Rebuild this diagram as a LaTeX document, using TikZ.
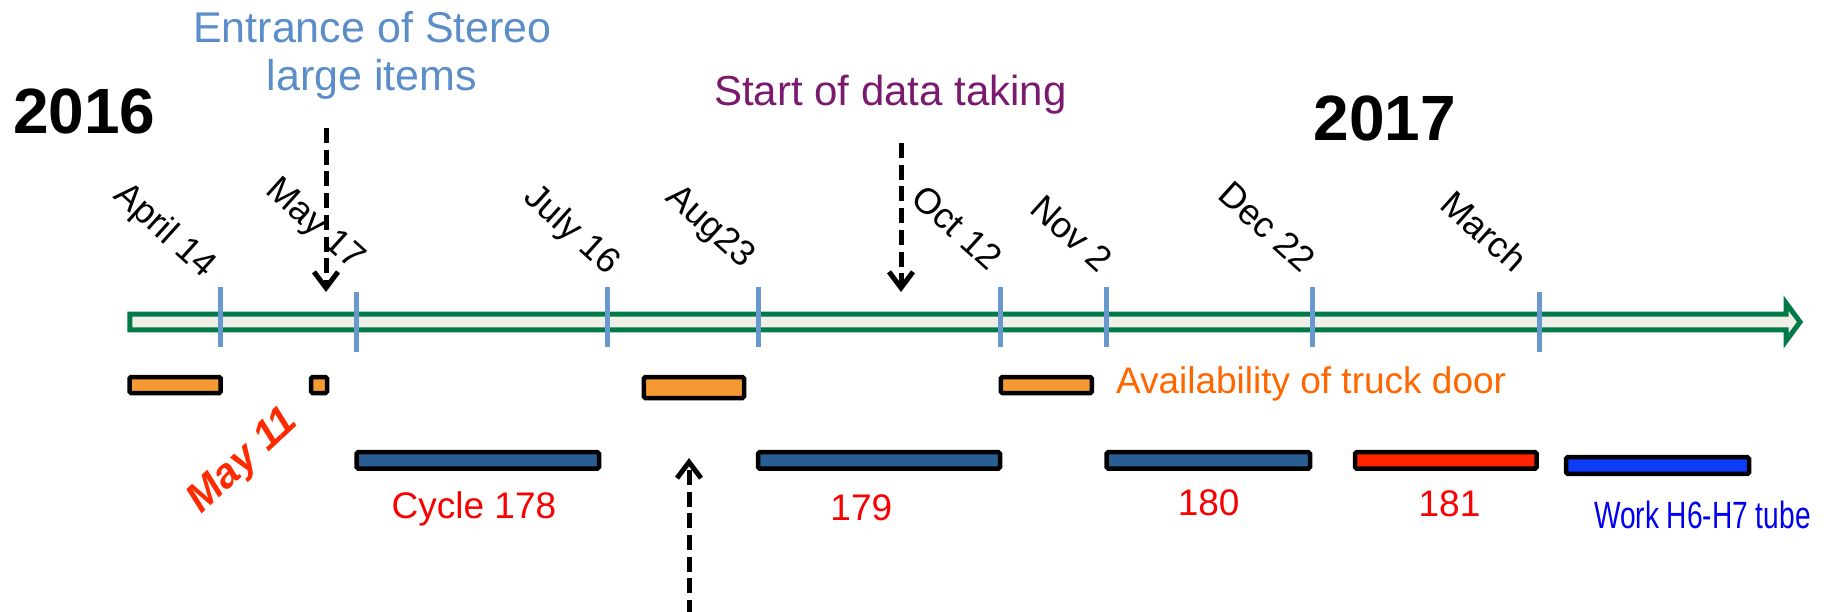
\documentclass[tikz,border=0pt]{standalone}
\usepackage{fontspec}
\setmainfont{Liberation Sans}
\newfontfamily\narrowsans[FakeStretch=0.74]{Liberation Sans}
\usetikzlibrary{arrows.meta}

\definecolor{tlgreen}{RGB}{0,122,72}
\definecolor{tlfill}{RGB}{239,239,232}
\definecolor{tickblue}{RGB}{104,153,206}
\definecolor{doororange}{RGB}{245,154,50}
\definecolor{cyclenavy}{RGB}{40,94,145}
\definecolor{cyclered}{RGB}{255,36,0}
\definecolor{workblue}{RGB}{12,60,250}
\definecolor{stereoblue}{RGB}{91,141,201}
\definecolor{datapurple}{RGB}{122,26,110}
\definecolor{doortext}{RGB}{255,102,0}
\definecolor{labelred}{RGB}{250,0,0}
\definecolor{mayred}{RGB}{255,42,0}
\definecolor{labelblue}{RGB}{0,0,240}

\begin{document}
\begin{tikzpicture}[x=1pt,y=-1pt,
  every node/.style={inner sep=0pt, outer sep=0pt},
  datelabel/.style={font=\fontsize{36}{43}\selectfont, anchor=base east, rotate=-42},
  yearlabel/.style={font=\bfseries\fontsize{64}{70}\selectfont, anchor=base west},
  notelabel/.style={font=\fontsize{43}{48}\selectfont, anchor=base},
  cyclelabel/.style={font=\fontsize{37}{43}\selectfont, text=labelred, anchor=base},
  tickmark/.style={draw=tickblue, line width=5pt},
  bar/.style={draw=black, line width=4.5pt, rounded corners=1.5pt},
  doorbar/.style={bar, fill=doororange},
  cyclebar/.style={bar, fill=cyclenavy},
  pointer/.style={line width=5pt, dash pattern=on 15pt off 6.7pt,
    -{Straight Barb[length=16pt,width=24pt]}}]

% page
\fill[white] (0,0) rectangle (1829,611);
\useasboundingbox (0,0) rectangle (1829,611);

% time line arrow
\draw[tlgreen, fill=tlfill, line width=5pt, miter limit=10]
  (129.8,314.2) -- (1786,314.2) -- (1786,303) -- (1800,322)
  -- (1786,341) -- (1786,329.8) -- (129.8,329.8) -- cycle;

% date ticks
\foreach \x/\t/\b in {220.7/287/347, 356.7/292/352, 607.3/287/347, 758.7/287/347,
                      1000.7/287/347, 1106.3/287/347, 1312.3/287/347, 1539/292/352}
  \draw[tickmark] (\x,\t) -- (\x,\b);

% years
\node[yearlabel] (y2016) at (13,133) {2016};
\node[yearlabel] (y2017) at (1313.5,140) {2017};

% dates
\node[datelabel] (dApr) at (203,279) {April 14};
\node[datelabel] (dMay) at (352,271) {May 17};
\node[datelabel] (dJul) at (607,276) {July 16};
\node[datelabel] (dAug) at (742,269) {Aug23};
\node[datelabel] (dOct) at (988,272) {Oct 12};
\node[datelabel] (dNov) at (1098,274) {Nov 2};
\node[datelabel] (dDec) at (1301,274) {Dec 22};
\node[datelabel] (dMar) at (1513,274) {March};

% events above the line
\node[notelabel, text=stereoblue] (stereoA) at (372.5,42.7) {Entrance of Stereo};
\node[notelabel, text=stereoblue] (stereoB) at (372,90.7) {large items};
\node[font=\fontsize{42}{48}\selectfont, text=datapurple, anchor=base west]
  (datastart) at (714,105) {Start of data taking};

\coordinate (stereoFrom) at (326,128);
\coordinate (stereoTo) at (326,292);
\coordinate (dataFrom) at (901,143);
\coordinate (dataTo) at (901,292);
\coordinate (lowFrom) at (689,615);
\coordinate (lowTo) at (689,458);
\draw[pointer] (stereoFrom) -- (stereoTo);
\draw[pointer] (dataFrom) -- (dataTo);
\draw[pointer] (lowFrom) -- (lowTo);

% truck door availability
\draw[doorbar] (129.6,377) rectangle (220.7,393);
\draw[doorbar] (311,377) rectangle (327,393);
\draw[doorbar] (643.8,377) rectangle (744,398);
\draw[doorbar] (1000.8,377) rectangle (1091.8,393);
\node[font=\fontsize{37}{43}\selectfont, text=doortext, anchor=base west]
  (door) at (1116,393.3) {Availability of truck door};

% cycles
\draw[cyclebar] (356.6,452.2) rectangle (599,468.5);
\draw[cyclebar] (758,452.2) rectangle (1000,468.5);
\draw[cyclebar] (1106.6,452.2) rectangle (1310,468.5);
\draw[bar, fill=cyclered] (1355,452.2) rectangle (1536.7,468.5);
\draw[bar, fill=workblue] (1566,457.2) rectangle (1749,473.8);

\node[cyclelabel] (c178) at (474,518) {Cycle 178};
\node[cyclelabel] (c179) at (861.3,520) {179};
\node[cyclelabel] (c180) at (1208.7,515.7) {180};
\node[cyclelabel] (c181) at (1449.5,516) {181};
\node[font=\narrowsans\fontsize{38}{44}\selectfont, text=labelblue, anchor=base west]
  (work) at (1594,528) {Work H6-H7 tube};

\node[font=\bfseries\itshape\fontsize{41}{47}\selectfont, text=mayred, rotate=43]
  (may11) at (244,462) {May 11};

\end{tikzpicture}
\end{document}
